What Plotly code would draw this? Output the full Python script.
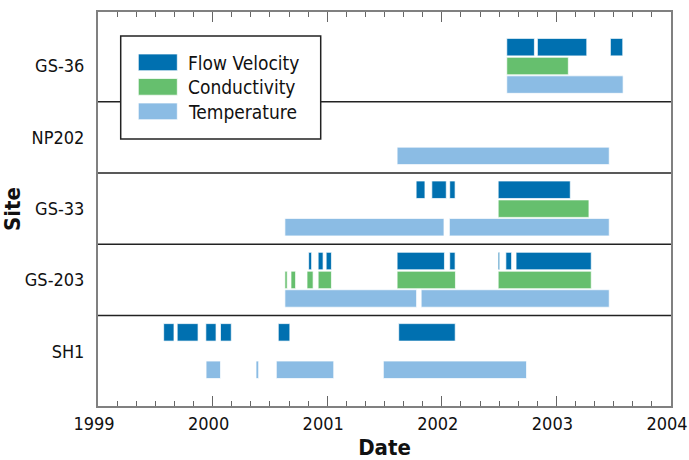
import plotly.graph_objects as go

# ---------------- data (decimal years) ----------------
sites = ["SH1", "GS-203", "GS-33", "NP202", "GS-36"]
year_ticks = [1999, 2000, 2001, 2002, 2003, 2004]

fv_site = ["SH1", "SH1", "SH1", "SH1", "SH1", "SH1",
           "GS-203", "GS-203", "GS-203", "GS-203", "GS-203", "GS-203", "GS-203", "GS-203",
           "GS-33", "GS-33", "GS-33", "GS-33",
           "GS-36", "GS-36", "GS-36"]
fv_start = [1999.573, 1999.691, 1999.941, 2000.069, 2000.573, 2001.624,
            2000.838, 2000.921, 2000.991, 2001.610, 2002.069, 2002.492, 2002.559, 2002.648,
            2001.776, 2001.913, 2002.069, 2002.492,
            2002.567, 2002.834, 2003.471]
fv_end = [1999.663, 1999.873, 2000.030, 2000.163, 2000.674, 2002.117,
          2000.864, 2000.964, 2001.037, 2002.023, 2002.116, 2002.505, 2002.609, 2003.304,
          2001.853, 2002.039, 2002.116, 2003.121,
          2002.808, 2003.265, 2003.579]

cond_site = ["GS-203", "GS-203", "GS-203", "GS-203", "GS-203", "GS-203",
             "GS-33", "GS-36"]
cond_start = [2000.631, 2000.684, 2000.824, 2000.921, 2001.610, 2002.492,
              2002.492, 2002.567]
cond_end = [2000.651, 2000.724, 2000.877, 2001.037, 2002.119, 2003.304,
            2003.284, 2003.104]

temp_site = ["SH1", "SH1", "SH1", "SH1",
             "GS-203", "GS-203", "GS-33", "GS-33", "NP202", "GS-36"]
temp_start = [1999.943, 2000.379, 2000.556, 2001.490,
              2000.631, 2001.820, 2000.631, 2002.066, 2001.610, 2002.567]
temp_end = [2000.069, 2000.402, 2001.057, 2002.739,
            2001.780, 2003.461, 2002.019, 2003.461, 2003.461, 2003.582]

# ---------------- styling ----------------
FONT = "DejaVu Sans Condensed, Liberation Sans Narrow, sans-serif"
W, H = 689, 460
ML, MR, MT, MB = 98, 18, 12, 54
PW, PH = W - ML - MR, H - MT - MB

series = [
    ("Flow Velocity", fv_site, fv_start, fv_end, "#0070B0", 0.265),
    ("Conductivity", cond_site, cond_start, cond_end, "#66BF6E", 0.0),
    ("Temperature", temp_site, temp_start, temp_end, "#8BBCE4", -0.26),
]

fig = go.Figure()
for name, s_site, s_start, s_end, color, off in series:
    ys = [sites.index(s) + off for s in s_site]
    widths = [e - b for b, e in zip(s_start, s_end)]
    fig.add_trace(go.Bar(
        orientation="h", y=ys, x=widths, base=s_start, width=0.245,
        marker=dict(color=color, line=dict(color="rgba(255,255,255,0.7)", width=1)),
        name=name, showlegend=False,
        hovertemplate="%{base:.2f} - %{x:.2f}<extra>" + name + "</extra>",
    ))


def px_x(px):
    return (px - ML) / PW


def px_y(py):
    return (H - MB - py) / PH


shapes = []
for k in range(len(sites) - 1):
    shapes.append(dict(type="line", xref="paper", x0=0, x1=1, yref="y",
                       y0=k + 0.5, y1=k + 0.5, line=dict(color="#222222", width=1.5),
                       layer="above"))

# legend box (drawn as layout decoration)
shapes.append(dict(type="rect", xref="paper", yref="paper",
                   x0=px_x(120.7), x1=px_x(320.7), y0=px_y(139), y1=px_y(36),
                   fillcolor="white", line=dict(color="#222222", width=1.5), layer="above"))
annotations = []
for i, (name, _, _, _, color, _) in enumerate(series):
    top = 54 + i * 24.5
    shapes.append(dict(type="rect", xref="paper", yref="paper",
                       x0=px_x(138.3), x1=px_x(177.3), y0=px_y(top + 16.7), y1=px_y(top),
                       fillcolor=color, line=dict(color="rgba(255,255,255,0.7)", width=1),
                       layer="above"))
    annotations.append(dict(xref="paper", yref="paper", x=px_x(185.5), y=px_y(top + 8.6),
                            xanchor="left", yanchor="middle", text=name, showarrow=False,
                            font=dict(family=FONT, size=19, color="#111111")))

fig.update_layout(
    width=W, height=H,
    margin=dict(l=ML, r=MR, t=MT, b=MB),
    paper_bgcolor="white", plot_bgcolor="white",
    barmode="overlay",
    font=dict(family=FONT, size=18, color="#111111"),
    shapes=shapes, annotations=annotations,
    showlegend=False,
    xaxis=dict(
        range=[1999, 2004], tickvals=year_ticks, ticktext=[str(y) for y in year_ticks],
        ticks="inside", ticklen=10, tickwidth=1, tickcolor="#666666",
        minor=dict(dtick=1 / 6, tick0=1999, ticks="inside", ticklen=5,
                   tickwidth=1, tickcolor="#666666", showgrid=False),
        showline=True, linecolor="#808080", linewidth=2, mirror="allticks",
        showgrid=False, zeroline=False, automargin=False,
        ticklabeloverflow="allow", ticklabelshift=-4,
        tickfont=dict(size=18),
        title=dict(text="<b>Date</b>", font=dict(size=22), standoff=12),
    ),
    yaxis=dict(
        range=[-0.768, 4.758], tickvals=list(range(len(sites))), ticktext=sites,
        ticks="", showline=True, linecolor="#808080", linewidth=2, mirror=True,
        showgrid=False, zeroline=False, ticklabelstandoff=8, automargin=False,
        tickfont=dict(size=18),
        title=dict(text="<b>Site</b>", font=dict(size=22), standoff=0),
    ),
)

fig.write_html("out.html", config={"displayModeBar": False},
               post_script="document.body.style.margin='0';")
